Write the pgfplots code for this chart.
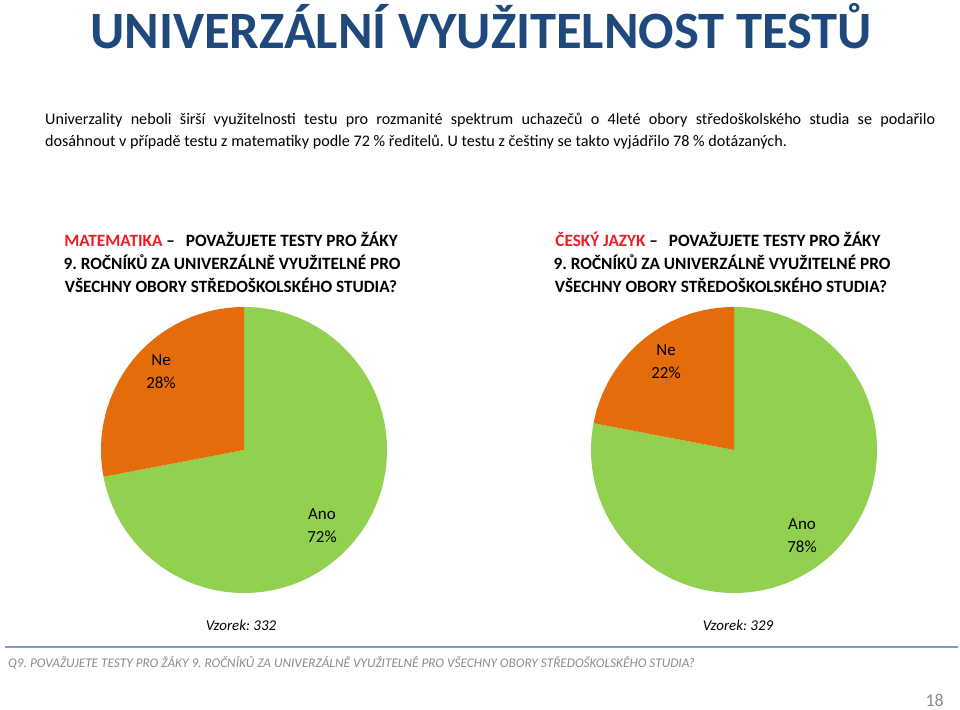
\documentclass[border=0pt]{standalone}
\usepackage{fontspec}
\setmainfont{Carlito}
\usepackage{pgfplots}
\pgfplotsset{compat=1.18}
\usepackage{pgfplotstable}
\definecolor{titleblue}{HTML}{1F497D}
\definecolor{anogreen}{HTML}{92D050}
\definecolor{neorange}{HTML}{E46C0A}
\definecolor{hred}{HTML}{EE1C25}
\definecolor{footline}{HTML}{7F9DB9}
\definecolor{footgray}{HTML}{8C8C8C}

\pgfplotstableread{
label value
Ano 72
Ne 28
}\mathdata
\pgfplotstableread{
label value
Ano 78
Ne 22
}\cjdata

\begin{document}
\frenchspacing
\begin{tikzpicture}[x=1bp,y=1bp]
\path[use as bounding box, fill=white] (0,0) rectangle (960,710);

% title
\node[anchor=base, inner sep=0, text=titleblue, font=\bfseries\fontsize{52.7}{60}\selectfont] at (481,661) {UNIVERZÁLNÍ VYUŽITELNOST TESTŮ};

% paragraph
\node[anchor=base west, inner sep=0, font=\fontsize{16.2}{22}\selectfont] at (45,585)
 {\makebox[890bp][s]{Univerzality neboli širší využitelnosti testu pro rozmanité spektrum uchazečů o 4leté obory středoškolského studia se podařilo}};
\node[anchor=base west, inner sep=0, font=\fontsize{16.2}{22}\selectfont] at (45,563)
 {dosáhnout v případě testu z matematiky podle 72 \% ředitelů. U testu z češtiny se takto vyjádřilo 78 \% dotázaných.};

% chart headings
\begin{scope}[every node/.style={anchor=base, inner sep=0, font=\bfseries\fontsize{17.3}{20}\selectfont}]
\node at (231,463) {\textcolor{hred}{MATEMATIKA} –\hspace{7bp} POVAŽUJETE TESTY PRO ŽÁKY};
\node at (232,440) {9. ROČNÍKŮ ZA UNIVERZÁLNĚ VYUŽITELNÉ PRO};
\node at (231,417) {VŠECHNY OBORY STŘEDOŠKOLSKÉHO STUDIA?};
\node at (718,463) {\textcolor{hred}{ČESKÝ JAZYK} –\hspace{7bp} POVAŽUJETE TESTY PRO ŽÁKY};
\node at (722,440) {9. ROČNÍKŮ ZA UNIVERZÁLNĚ VYUŽITELNÉ PRO};
\node at (721,417) {VŠECHNY OBORY STŘEDOŠKOLSKÉHO STUDIA?};
\end{scope}

% slice angles from the tables
\pgfplotstablegetelem{0}{value}\of\mathdata \pgfmathsetmacro\mAno{\pgfplotsretval}
\pgfplotstablegetelem{1}{value}\of\mathdata \pgfmathsetmacro\mNe{\pgfplotsretval}
\pgfplotstablegetelem{0}{value}\of\cjdata \pgfmathsetmacro\cAno{\pgfplotsretval}
\pgfplotstablegetelem{1}{value}\of\cjdata \pgfmathsetmacro\cNe{\pgfplotsretval}
\pgfmathsetmacro\mAnoEnd{90-3.6*\mAno}
\pgfmathsetmacro\mNeEnd{90+3.6*\mNe}
\pgfmathsetmacro\cAnoEnd{90-3.6*\cAno}
\pgfmathsetmacro\cNeEnd{90+3.6*\cNe}

\begin{axis}[at={(244bp,260bp)}, anchor=center, width=286bp, height=286bp, scale only axis,
  xmin=-1, xmax=1, ymin=-1, ymax=1, hide axis, clip=false]
\addplot[draw=none, forget plot] coordinates {(0,0)};
\fill[anogreen] (axis cs:0,0) -- (axis cs:0,1) arc[start angle=90, end angle=\mAnoEnd, radius=143bp] -- cycle;
\fill[neorange] (axis cs:0,0) -- (axis cs:0,1) arc[start angle=90, end angle=\mNeEnd, radius=143bp] -- cycle;
\end{axis}
\begin{axis}[at={(734bp,260bp)}, anchor=center, width=286bp, height=286bp, scale only axis,
  xmin=-1, xmax=1, ymin=-1, ymax=1, hide axis, clip=false]
\addplot[draw=none, forget plot] coordinates {(0,0)};
\fill[anogreen] (axis cs:0,0) -- (axis cs:0,1) arc[start angle=90, end angle=\cAnoEnd, radius=143bp] -- cycle;
\fill[neorange] (axis cs:0,0) -- (axis cs:0,1) arc[start angle=90, end angle=\cNeEnd, radius=143bp] -- cycle;
\end{axis}

% pie labels
\begin{scope}[every node/.style={anchor=base, inner sep=0, font=\fontsize{17}{20}\selectfont}]
\node at (161,344) {Ne};
\node at (161,321) {28\%};
\node at (322,190) {Ano};
\node at (322,167) {72\%};
\node at (666,354) {Ne};
\node at (666,331) {22\%};
\node at (802,180) {Ano};
\node at (802,157) {78\%};
\end{scope}

% sample sizes
\node[anchor=base, inner sep=0, font=\itshape\fontsize{15}{18}\selectfont] at (241,79) {Vzorek: 332};
\node[anchor=base, inner sep=0, font=\itshape\fontsize{15}{18}\selectfont] at (738,79) {Vzorek: 329};

% footer
\draw[footline, line width=1.8bp] (5,63) -- (958,63);
\node[anchor=base west, inner sep=0, text=footgray, font=\itshape\fontsize{13.3}{15}\selectfont] at (8,42)
 {Q9. POVAŽUJETE TESTY PRO ŽÁKY 9. ROČNÍKŮ ZA UNIVERZÁLNĚ VYUŽITELNÉ PRO VŠECHNY OBORY STŘEDOŠKOLSKÉHO STUDIA?};
\node[anchor=base east, inner sep=0, text=footgray, font=\fontsize{18}{20}\selectfont] at (944,3) {18};
\end{tikzpicture}
\end{document}
